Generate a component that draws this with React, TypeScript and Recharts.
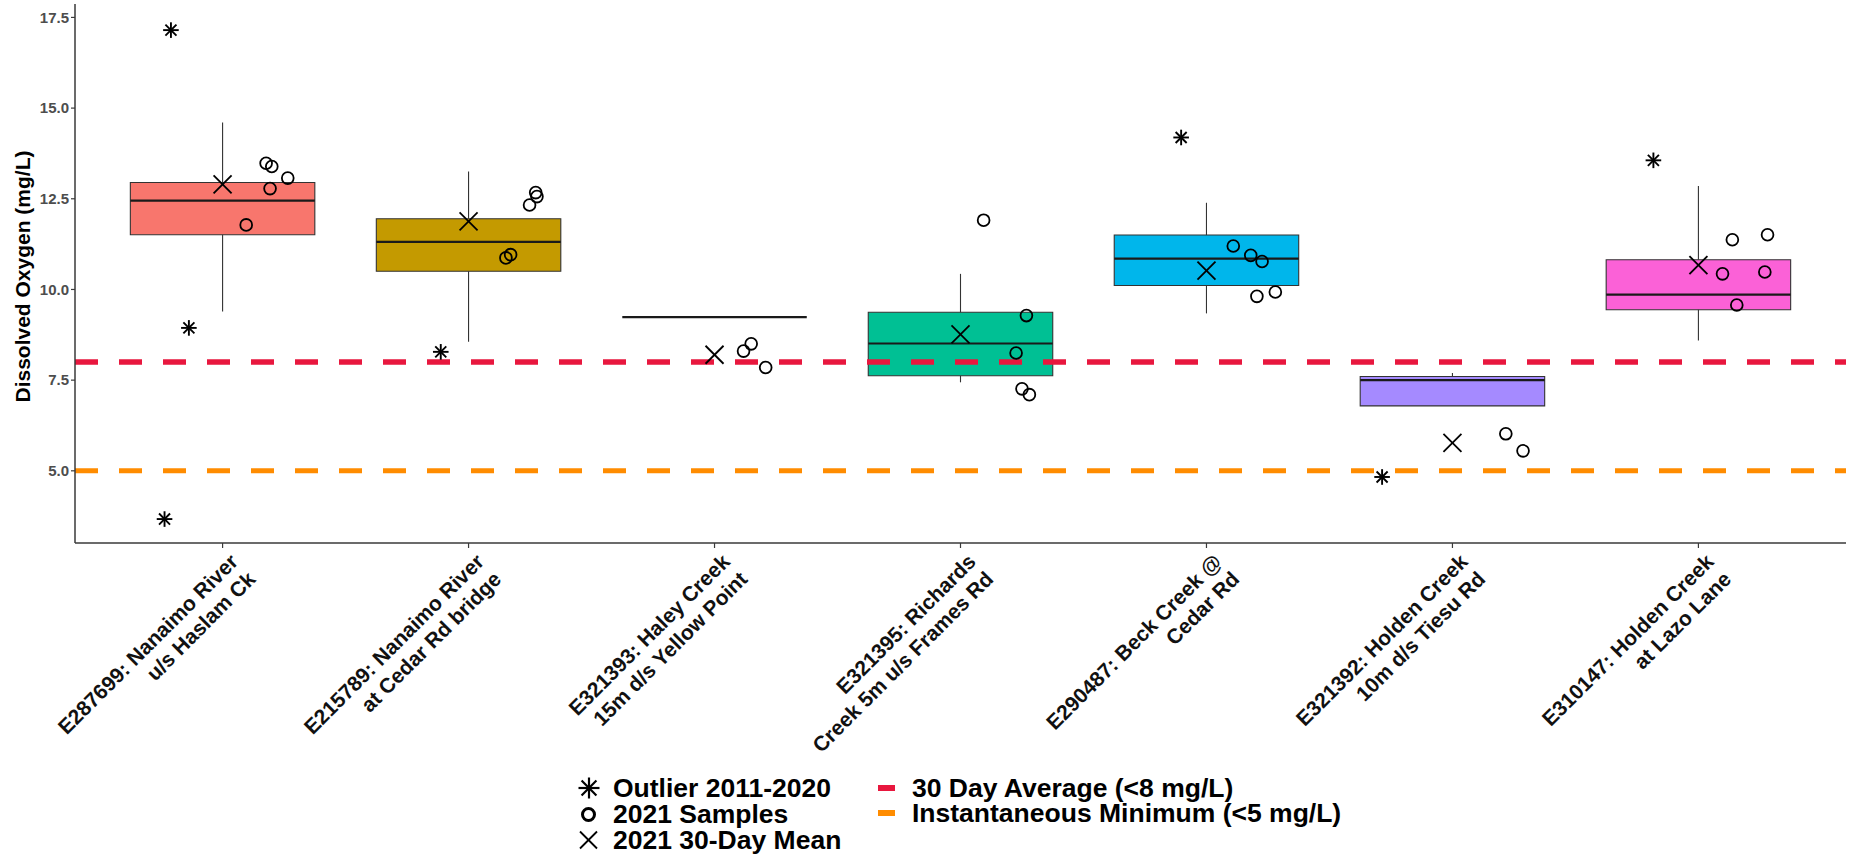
import React from 'react';
import {
  ComposedChart,
  XAxis,
  YAxis,
  Scatter,
  ReferenceArea,
  ReferenceLine,
} from 'recharts';

const FONT = "'Liberation Sans', Arial, Helvetica, sans-serif";

// ---- data ----
const sites = [
  'E287699: Nanaimo River\nu/s Haslam Ck',
  'E215789: Nanaimo River\nat Cedar Rd bridge',
  'E321393: Haley Creek\n15m d/s Yellow Point',
  'E321395: Richards\nCreek 5m u/s Frames Rd',
  'E290487: Beck Creek @\nCedar Rd',
  'E321392: Holden Creek\n10m d/s Tiesu Rd',
  'E310147: Holden Creek\nat Lazo Lane',
];
const boxColors = ['#F8766D', '#C49A00', '#53B400', '#00C094', '#00B6EB', '#A58AFF', '#FB61D7'];

const whiskerLow = [9.39, 8.56, 9.24, 7.44, 9.34, 6.79, 8.59];
const q1 = [11.51, 10.5, 9.24, 7.62, 10.11, 6.79, 9.44];
const median = [12.45, 11.31, 9.24, 8.51, 10.85, 7.5, 9.86];
const q3 = [12.95, 11.95, 9.24, 9.37, 11.5, 7.6, 10.82];
const whiskerHigh = [14.6, 13.25, 9.24, 10.43, 12.39, 7.7, 12.85];
const mean30Day = [12.9, 11.88, 8.2, 8.76, 10.52, 5.77, 10.67];

// [site index, value, horizontal jitter (fraction of category step)]
const outliers: [number, number, number][] = [
  [0, 17.15, -0.21],
  [0, 8.94, -0.137],
  [0, 3.67, -0.236],
  [1, 8.28, -0.113],
  [4, 14.19, -0.103],
  [5, 4.83, -0.286],
  [6, 13.56, -0.183],
];

const samples2021: [number, number, number][] = [
  [0, 13.48, 0.177], [0, 13.39, 0.2], [0, 12.78, 0.193], [0, 13.07, 0.265], [0, 11.78, 0.096],
  [1, 12.67, 0.273], [1, 12.56, 0.278], [1, 12.33, 0.248], [1, 10.96, 0.171], [1, 10.87, 0.152],
  [2, 8.5, 0.149], [2, 8.3, 0.118], [2, 7.85, 0.208],
  [3, 11.91, 0.094], [3, 9.28, 0.268], [3, 8.25, 0.226], [3, 7.26, 0.25], [3, 7.1, 0.28],
  [4, 11.2, 0.109], [4, 10.94, 0.18], [4, 10.77, 0.226], [4, 9.81, 0.205], [4, 9.93, 0.28],
  [5, 6.02, 0.217], [5, 5.55, 0.287],
  [6, 11.37, 0.138], [6, 11.51, 0.281], [6, 10.43, 0.098], [6, 10.48, 0.27], [6, 9.57, 0.156],
];

const thresholds = [8, 5];
const thresholdColors = ['#E8173E', '#FF8C00'];
const yTicks = [5, 7.5, 10, 12.5, 15, 17.5];
const xTicks = sites.map((_, i) => i + 1);

const HALF_BOX = 0.375;

const outlierData = outliers.map(([i, v, j]) => ({ x: i + 1 + j, y: v }));
const sampleData = samples2021.map(([i, v, j]) => ({ x: i + 1 + j, y: v }));
const meanData = mean30Day.map((v, i) => ({ x: i + 1, y: v }));

// ---- shapes ----
const Asterisk = ({ cx, cy, r = 7.8, sw = 1.9 }: any) => {
  const d = r * Math.SQRT1_2;
  return (
    <g stroke="#000" strokeWidth={sw}>
      <line x1={cx - r} y1={cy} x2={cx + r} y2={cy} />
      <line x1={cx} y1={cy - r} x2={cx} y2={cy + r} />
      <line x1={cx - d} y1={cy - d} x2={cx + d} y2={cy + d} />
      <line x1={cx - d} y1={cy + d} x2={cx + d} y2={cy - d} />
    </g>
  );
};
const Ring = ({ cx, cy, r = 5.9, sw = 1.8 }: any) => (
  <circle cx={cx} cy={cy} r={r} fill="none" stroke="#000" strokeWidth={sw} />
);
const Cross = ({ cx, cy, h = 9, sw = 1.8 }: any) => (
  <g stroke="#000" strokeWidth={sw}>
    <line x1={cx - h} y1={cy - h} x2={cx + h} y2={cy + h} />
    <line x1={cx - h} y1={cy + h} x2={cx + h} y2={cy - h} />
  </g>
);

const XTick = (props: any) => {
  const { x, y, payload } = props;
  const label = sites[Math.round(payload.value) - 1] || '';
  const lines = label.split('\n');
  return (
    <g transform={`translate(${x},${y})`}>
      <text
        transform="rotate(-45)"
        textAnchor="end"
        fontSize={21}
        fontWeight="bold"
        fill="#111"
        fontFamily={FONT}
      >
        {lines.map((l, i) => (
          <tspan key={i} x={2.5} y={21 + i * 24.7}>
            {l}
          </tspan>
        ))}
      </text>
    </g>
  );
};

const YTitle = (props: any) => {
  const vb = props.viewBox || { x: 0, y: 4, width: 75, height: 539 };
  const cy = vb.y + vb.height / 2 + 3;
  const bx = 30;
  return (
    <text
      x={bx}
      y={cy}
      transform={`rotate(-90, ${bx}, ${cy})`}
      textAnchor="middle"
      fontSize={21}
      fontWeight="bold"
      fill="#000"
      fontFamily={FONT}
    >
      Dissolved Oxygen (mg/L)
    </text>
  );
};

const Legend = () => (
  <svg
    width={1862}
    height={857}
    style={{ position: 'absolute', left: 0, top: 0, pointerEvents: 'none' }}
  >
    <g fontFamily={FONT} fontWeight="bold" fontSize={26.5} fill="#000">
      <Asterisk cx={589} cy={788} r={10.5} sw={2.2} />
      <text x={613} y={797}>Outlier 2011-2020</text>
      <Ring cx={588.5} cy={814.5} r={6} sw={3} />
      <text x={613} y={823}>2021 Samples</text>
      <Cross cx={588.5} cy={840} h={8.5} sw={1.8} />
      <text x={613} y={848.5}>2021 30-Day Mean</text>

      <rect x={878} y={785} width={17} height={6} fill={thresholdColors[0]} />
      <text x={912} y={797}>30 Day Average (&lt;8 mg/L)</text>
      <rect x={878} y={810} width={17} height={6} fill={thresholdColors[1]} />
      <text x={912} y={822}>Instantaneous Minimum (&lt;5 mg/L)</text>
    </g>
  </svg>
);

export default function App() {
  return (
    <div
      style={{
        position: 'absolute',
        left: 0,
        top: 0,
        width: 1862,
        height: 857,
        background: '#fff',
      }}
    >
      <ComposedChart
        width={1862}
        height={857}
        margin={{ top: 4, right: 16, bottom: 0, left: 0 }}
      >
        <XAxis
          type="number"
          dataKey="x"
          domain={[0.4, 7.6]}
          ticks={xTicks}
          interval={0}
          allowDataOverflow
          height={314}
          tickSize={5}
          tickMargin={2}
          axisLine={{ stroke: '#3a3a3a', strokeWidth: 1.5 }}
          tickLine={{ stroke: '#3a3a3a', strokeWidth: 1.2 }}
          tick={(p: any) => <XTick {...p} />}
        />
        <YAxis
          type="number"
          dataKey="y"
          domain={[3.01, 17.87]}
          ticks={yTicks}
          interval={0}
          allowDataOverflow
          width={75}
          tickSize={4}
          tickMargin={2}
          axisLine={{ stroke: '#3a3a3a', strokeWidth: 1.5 }}
          tickLine={{ stroke: '#3a3a3a', strokeWidth: 1.2 }}
          tickFormatter={(v: number) => v.toFixed(1)}
          tick={{ fill: '#4D4D4D', fontSize: 15, fontWeight: 'bold', fontFamily: FONT }}
          label={{ content: (p: any) => <YTitle {...p} /> }}
        />

        {sites.map((_, i) =>
          q3[i] > q1[i] ? (
            <ReferenceArea
              key={`box-${i}`}
              x1={i + 1 - HALF_BOX}
              x2={i + 1 + HALF_BOX}
              y1={q1[i]}
              y2={q3[i]}
              fill={boxColors[i]}
              fillOpacity={1}
              stroke="#333"
              strokeWidth={1.1}
            />
          ) : null
        )}
        {sites.map((_, i) =>
          whiskerHigh[i] > q3[i] ? (
            <ReferenceLine
              key={`wh-${i}`}
              segment={[
                { x: i + 1, y: q3[i] },
                { x: i + 1, y: whiskerHigh[i] },
              ]}
              stroke="#333"
              strokeWidth={1.1}
            />
          ) : null
        )}
        {sites.map((_, i) =>
          whiskerLow[i] < q1[i] ? (
            <ReferenceLine
              key={`wl-${i}`}
              segment={[
                { x: i + 1, y: whiskerLow[i] },
                { x: i + 1, y: q1[i] },
              ]}
              stroke="#333"
              strokeWidth={1.1}
            />
          ) : null
        )}
        {sites.map((_, i) => (
          <ReferenceLine
            key={`med-${i}`}
            segment={[
              { x: i + 1 - HALF_BOX, y: median[i] },
              { x: i + 1 + HALF_BOX, y: median[i] },
            ]}
            stroke="#1a1a1a"
            strokeWidth={2.2}
          />
        ))}

        {thresholds.map((t, i) => (
          <ReferenceLine
            key={`thr-${i}`}
            y={t}
            stroke={thresholdColors[i]}
            strokeWidth={i === 0 ? 5.5 : 5}
            strokeDasharray="23 21"
          />
        ))}

        <Scatter
          data={outlierData}
          isAnimationActive={false}
          shape={(p: any) => <Asterisk cx={p.cx} cy={p.cy} />}
        />
        <Scatter
          data={sampleData}
          isAnimationActive={false}
          shape={(p: any) => <Ring cx={p.cx} cy={p.cy} />}
        />
        <Scatter
          data={meanData}
          isAnimationActive={false}
          shape={(p: any) => <Cross cx={p.cx} cy={p.cy} />}
        />
      </ComposedChart>
      <Legend />
    </div>
  );
}
